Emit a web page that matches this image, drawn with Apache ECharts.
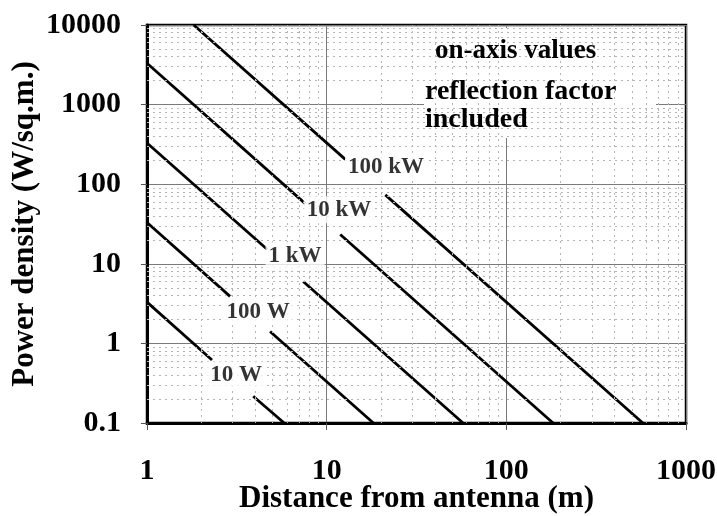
<!DOCTYPE html>
<html>
<head>
<meta charset="utf-8">
<style>
  html, body { margin: 0; padding: 0; background: #fff; }
  #chart { width: 717px; height: 516px; }
</style>
<script src="https://cdn.jsdelivr.net/npm/echarts@6/dist/echarts.min.js"></script>
</head>
<body>
<div id="chart"></div>
<script>
// Transmitter power levels, one line each
const powerNames = ['10 W', '100 W', '1 kW', '10 kW', '100 kW'];

// Each line is drawn in two pieces, broken where its power label sits.
// Points are [distance (m), power density (W/sq.m.)].
const line10W   = [[[1, 3.3],    [2.3, 0.62]],  [[3.9, 0.217], [5.8, 0.1]]];
const line100W  = [[[1, 33],     [2.9, 3.9]],   [[4.84, 1.41], [18.2, 0.1]]];
const line1kW   = [[[1, 330],    [4.66, 15.2]], [[7.4, 6.0],   [57.4, 0.1]]];
const line10kW  = [[[1, 3300],   [7.6, 57]],    [[11.9, 23.3], [182, 0.1]]];
const line100kW = [[[1.82, 10000], [12.7, 205]], [[21.2, 73.5], [575, 0.1]]];
const powerLines = [line10W, line100W, line1kW, line10kW, line100kW];

// Where each power label sits, in distance / density units
const labelDistance = [3.13, 4.15, 6.67, 11.7, 21.4];
const labelDensity  = [0.40, 2.49, 12.6, 47.8, 166];

// Axis tick labels
const distanceTicks = ['1', '10', '100', '1000'];
const densityTicks  = ['0.1', '1', '10', '100', '1000', '10000'];

// Notes in the upper right corner
const noteLines = ['on-axis values', 'reflection factor', 'included'];

const FONT = '"Liberation Serif", "Times New Roman", serif';

function tickText(list) {
  return function (v) {
    const s = String(+Number(v).toPrecision(6));
    return list.indexOf(s) >= 0 ? s : '';
  };
}

// 2..9 within each decade for the fine grid
function minorValues(lo, hi) {
  const out = [];
  for (let d = lo; d < hi; d *= 10) {
    for (let m = 2; m <= 9; m++) out.push(+(m * d).toPrecision(6));
  }
  return out;
}

const chart = echarts.init(document.getElementById('chart'), null, { renderer: 'canvas' });

const series = [];

// fine grid lines
series.push({
  type: 'line',
  data: [],
  z: 1,
  silent: true,
  markLine: {
    silent: true,
    symbol: 'none',
    label: { show: false },
    lineStyle: { color: '#b4b4b4', type: [2, 4], width: 1 },
    data: minorValues(1, 1000).map(v => ({ xAxis: v }))
      .concat(minorValues(0.1, 10000).map(v => ({ yAxis: v })))
  }
});

powerLines.forEach((pieces, i) => {
  pieces.forEach((pts) => {
    series.push({
      name: powerNames[i],
      type: 'line',
      data: pts,
      z: 3,
      showSymbol: false,
      silent: true,
      lineStyle: { color: '#000', width: 2.8 },
      animation: false
    });
  });
});

// power labels
series.push({
  type: 'scatter',
  z: 5,
  symbolSize: 0,
  silent: true,
  data: powerNames.map((n, i) => ({ value: [labelDistance[i], labelDensity[i]], name: n })),
  label: {
    show: true,
    position: 'inside',
    formatter: p => p.name,
    fontFamily: FONT,
    fontWeight: 'bold',
    fontSize: 23,
    color: '#000',
    backgroundColor: '#fff',
    padding: [2, 3]
  }
});

const option = {
  animation: false,
  backgroundColor: '#fff',
  grid: {
    left: 147, right: 31, top: 25, bottom: 93,
    containLabel: false,
    outerBoundsMode: 'none',
    show: true,
    borderColor: '#000',
    borderWidth: 2.5,
    backgroundColor: 'transparent'
  },
  xAxis: {
    type: 'log',
    logBase: 10,
    min: 1,
    max: 1000,
    name: 'Distance from antenna (m)',
    nameLocation: 'middle',
    nameGap: 60,
    nameMoveOverlap: false,
    nameTextStyle: { fontFamily: FONT, fontWeight: 'bold', fontSize: 31, color: '#000' },
    axisLine: { show: true, lineStyle: { color: '#000', width: 3 } },
    axisTick: { show: true, inside: false, length: 7, lineStyle: { color: '#555', width: 1 } },
    axisLabel: {
      margin: 33,
      hideOverlap: false,
      fontFamily: FONT, fontWeight: 'bold', fontSize: 30, color: '#000',
      formatter: tickText(distanceTicks)
    },
    splitLine: { show: true, lineStyle: { color: '#7a7a7a', width: 1 } },
    minorTick: { show: false },
    minorSplitLine: { show: false }
  },
  yAxis: {
    type: 'log',
    logBase: 10,
    min: 0.1,
    max: 10000,
    name: 'Power density (W/sq.m.)',
    nameLocation: 'middle',
    nameRotate: 90,
    nameGap: 107,
    nameMoveOverlap: false,
    nameTextStyle: { fontFamily: FONT, fontWeight: 'bold', fontSize: 31, color: '#000' },
    axisLine: { show: true, lineStyle: { color: '#000', width: 3 } },
    axisTick: { show: true, inside: false, length: 6, lineStyle: { color: '#555', width: 1 } },
    axisLabel: {
      margin: 26,
      fontFamily: FONT, fontWeight: 'bold', fontSize: 30, color: '#000',
      formatter: tickText(densityTicks)
    },
    splitLine: { show: true, lineStyle: { color: '#7a7a7a', width: 1 } },
    minorTick: { show: false },
    minorSplitLine: { show: false }
  },
  graphic: [
    {
      type: 'rect',
      z: 4,
      silent: true,
      shape: { x: 424, y: 28, width: 232, height: 110 },
      style: { fill: '#fff' }
    },
    {
      type: 'text', z: 6, silent: true, x: 435, y: 51,
      style: { text: noteLines[0], fontFamily: FONT, fontWeight: 'bold', fontSize: 27, fill: '#000', verticalAlign: 'middle' }
    },
    {
      type: 'text', z: 6, silent: true, x: 425, y: 92,
      style: { text: noteLines[1], fontFamily: FONT, fontWeight: 'bold', fontSize: 28, fill: '#000', verticalAlign: 'middle' }
    },
    {
      type: 'text', z: 6, silent: true, x: 425, y: 120,
      style: { text: noteLines[2], fontFamily: FONT, fontWeight: 'bold', fontSize: 28, fill: '#000', verticalAlign: 'middle' }
    }
  ],
  series: series
};

chart.setOption(option);
</script>
</body>
</html>
